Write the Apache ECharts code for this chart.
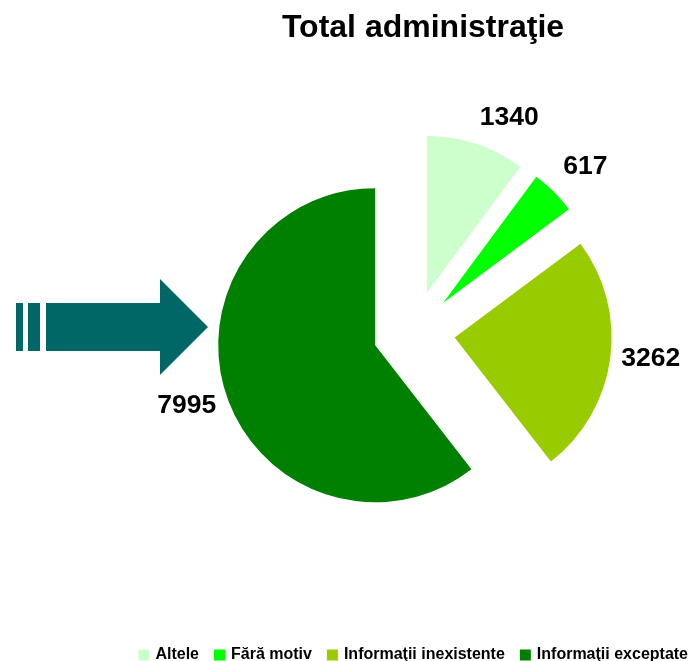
<!DOCTYPE html>
<html>
<head>
<meta charset="utf-8">
<script src="https://cdn.jsdelivr.net/npm/echarts@6/dist/echarts.min.js"></script>
<style>
  html, body { margin: 0; padding: 0; background: #fff; }
  #chart { width: 692px; height: 661px; }
</style>
</head>
<body>
<div id="chart"></div>
<script>
const categories = ["Altele", "Fără motiv", "Informaţii inexistente", "Informaţii exceptate"];
const values = [1340, 617, 3262, 7995];
const colors = ["#CCFFCC", "#00FF00", "#99CC00", "#008000"];
// label placement tweaks per slice: [labelLine length, length2]
const labelLens = [[28, -10], [36, -21], [3, 3], [30, -23]];

const chart = echarts.init(document.getElementById("chart"));

const option = {
  animation: false,
  textStyle: { fontFamily: "Liberation Sans, Arial, sans-serif" },
  title: {
    text: "Total administraţie",
    left: 418,
    top: 7,
    textAlign: "center",
    textStyle: { fontSize: 32, fontWeight: "bold", color: "#000" },
  },
  legend: {
    data: categories,
    right: 4,
    top: 647,
    padding: 0,
    icon: "rect",
    itemWidth: 11,
    itemHeight: 11,
    itemGap: 15,
    selectedMode: false,
    textStyle: { fontSize: 16, fontWeight: "bold", color: "#000", padding: [0, 0, 0, 1] },
  },
  // decorative striped arrow on the left
  graphic: [
    { type: "rect", shape: { x: 16, y: 303, width: 7, height: 48 }, style: { fill: "#006666" } },
    { type: "rect", shape: { x: 28, y: 303, width: 12, height: 48 }, style: { fill: "#006666" } },
    {
      type: "polygon",
      shape: { points: [[46, 303], [160, 303], [160, 279], [208, 327], [160, 375], [160, 351], [46, 351]] },
      style: { fill: "#006666" },
    },
  ],
  series: [
    {
      type: "pie",
      center: [414, 332],
      radius: 157,
      startAngle: 90,
      clockwise: true,
      selectedMode: "multiple",
      selectedOffset: 41,
      avoidLabelOverlap: false,
      emphasis: { disabled: true },
      label: {
        show: true,
        position: "outside",
        formatter: "{c}",
        fontSize: 26.5,
        fontWeight: "bold",
        color: "#000",
      },
      labelLine: { show: false },
      data: categories.map((name, i) => ({
        name: name,
        value: values[i],
        selected: true,
        itemStyle: { color: colors[i] },
        labelLine: { show: false, length: labelLens[i][0], length2: labelLens[i][1] },
      })),
    },
  ],
};

chart.setOption(option);
</script>
</body>
</html>
